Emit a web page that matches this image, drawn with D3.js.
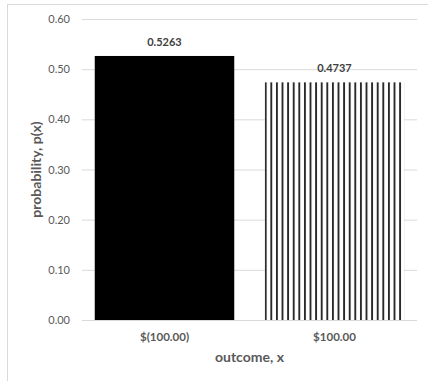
<!DOCTYPE html>
<html>
<head>
<meta charset="utf-8">
<script src="https://cdn.jsdelivr.net/npm/d3@7"></script>
<style>
  html, body { margin: 0; padding: 0; background: #fff; }
  svg { display: block; font-family: Lato, "Open Sans", sans-serif; }
</style>
</head>
<body>
<svg id="chart" width="428" height="381"></svg>
<script>
// Probability distribution of a single bet outcome
const outcomes = ["$(100.00)", "$100.00"];
const probabilities = [0.5263, 0.4737];
const yTicks = [0, 0.1, 0.2, 0.3, 0.4, 0.5, 0.6];
const fills = ["solid", "stripes"];

const svg = d3.select("#chart");
const plot = { left: 82, right: 417, top: 19, bottom: 320 };

// chart frame
svg.append("rect")
  .attr("x", 7.5).attr("y", 4.5)
  .attr("width", 430).attr("height", 390)
  .attr("fill", "#fff").attr("stroke", "#d9d9d9");

const x = d3.scaleBand().domain(outcomes)
  .range([plot.left, plot.right])
  .paddingInner(0.1794).paddingOuter(0.075);
const y = d3.scaleLinear().domain([0, 0.6]).range([plot.bottom, plot.top]);

// vertical stripe fill
const defs = svg.append("defs");
const pitch = 5.6;
const pat = defs.append("pattern")
  .attr("id", "vstripes")
  .attr("patternUnits", "userSpaceOnUse")
  .attr("width", pitch).attr("height", 10)
  .attr("patternTransform", `translate(${x(outcomes[1])},0)`);
pat.append("rect").attr("width", pitch).attr("height", 10).attr("fill", "#fff");
pat.append("rect").attr("x", 0).attr("width", 1.9).attr("height", 10).attr("fill", "#2a2a2a");

// gridlines and value ticks
svg.append("g")
  .attr("transform", `translate(${plot.left},0)`)
  .call(d3.axisLeft(y).tickValues(yTicks).tickSize(-(plot.right - plot.left)).tickFormat(d3.format(".2f")))
  .call(g => g.select(".domain").remove())
  .call(g => g.selectAll(".tick line").attr("stroke", "#d9d9d9").attr("stroke-width", 1))
  .call(g => g.selectAll(".tick text")
    .attr("x", -12).attr("fill", "#595959")
    .style("font-size", "11px").style("font-family", "Lato, sans-serif"));

// bars
svg.append("g").selectAll("rect")
  .data(outcomes)
  .join("rect")
  .attr("x", d => x(d))
  .attr("y", (d, i) => y(probabilities[i]))
  .attr("width", x.bandwidth())
  .attr("height", (d, i) => y(0) - y(probabilities[i]))
  .attr("fill", (d, i) => fills[i] === "solid" ? "#000" : "url(#vstripes)");

// base axis line
svg.append("line")
  .attr("x1", plot.left).attr("x2", plot.right)
  .attr("y1", y(0) + 0.5).attr("y2", y(0) + 0.5)
  .attr("stroke", "#d9d9d9");

// value labels
svg.append("g").selectAll("text")
  .data(outcomes)
  .join("text")
  .attr("x", d => x(d) + x.bandwidth() / 2)
  .attr("y", (d, i) => y(probabilities[i]) - 10)
  .attr("text-anchor", "middle")
  .attr("fill", "#404040")
  .style("font-size", "11px").style("font-weight", "bold")
  .text((d, i) => probabilities[i].toFixed(4));

// category labels
svg.append("g")
  .attr("transform", `translate(0,${plot.bottom})`)
  .call(d3.axisBottom(x).tickSize(0).tickPadding(0))
  .call(g => g.select(".domain").remove())
  .call(g => g.selectAll(".tick text")
    .attr("y", 21).attr("dy", "0")
    .attr("fill", "#595959")
    .style("font-size", "11.5px").style("font-weight", "bold")
    .style("font-family", "Lato, sans-serif"));

// axis titles
svg.append("text")
  .attr("x", (plot.left + plot.right) / 2).attr("y", 362)
  .attr("text-anchor", "middle").attr("fill", "#595959")
  .style("font-size", "14px").style("font-weight", "bold")
  .text("outcome, x");

svg.append("text")
  .attr("transform", `translate(41,${(plot.top + plot.bottom) / 2}) rotate(-90)`)
  .attr("text-anchor", "middle").attr("fill", "#595959")
  .style("font-size", "14px").style("font-weight", "bold")
  .text("probability, p(x)");
</script>
</body>
</html>
